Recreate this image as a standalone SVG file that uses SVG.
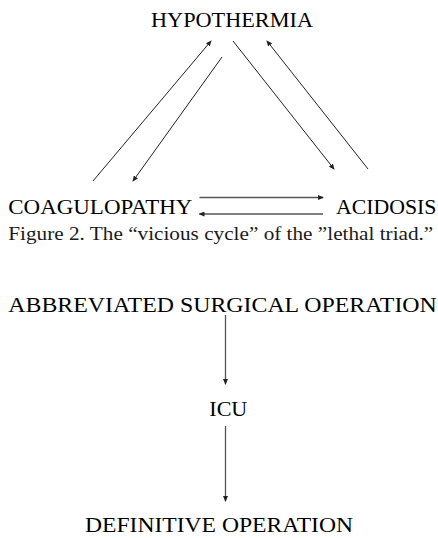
<svg xmlns="http://www.w3.org/2000/svg" width="438" height="538" viewBox="0 0 438 538">
<style>
text{font-family:'Liberation Serif','Times New Roman',serif;}
.lbl{font-size:22px;fill:#000;}
.cap{font-size:18px;fill:#1a1a1a;}
.c{stroke:#222;stroke-width:1;fill:none;marker-end:url(#ah);}
.g{stroke:#555;stroke-width:1.3;fill:none;marker-end:url(#ah);}
</style>
<defs>
<marker id="ah" markerUnits="userSpaceOnUse" markerWidth="6" markerHeight="5" refX="5" refY="2.5" orient="auto">
<path d="M0,0 L6,2.5 L0,5 z" fill="#222"/>
</marker>
</defs>
<rect width="438" height="538" fill="#fff"/>
<g id="hypothermia"><text class="lbl" x="151" y="26.7" textLength="162" lengthAdjust="spacingAndGlyphs">HYPOTHERMIA</text></g>
<g id="coagulopathy"><text class="lbl" x="8.3" y="214.3" textLength="184" lengthAdjust="spacingAndGlyphs">COAGULOPATHY</text></g>
<g id="acidosis"><text class="lbl" x="336" y="214.3" textLength="100.5" lengthAdjust="spacingAndGlyphs">ACIDOSIS</text></g>
<g id="caption"><text class="cap" x="8.3" y="240" textLength="425" lengthAdjust="spacingAndGlyphs">Figure 2. The “vicious cycle” of the ”lethal triad.”</text></g>
<g id="aso"><text class="lbl" x="8.3" y="311.7" textLength="428.5" lengthAdjust="spacingAndGlyphs">ABBREVIATED SURGICAL OPERATION</text></g>
<g id="icu"><text class="lbl" x="209.3" y="416" textLength="38" lengthAdjust="spacingAndGlyphs">ICU</text></g>
<g id="definitive"><text class="lbl" x="85" y="532" textLength="268" lengthAdjust="spacingAndGlyphs">DEFINITIVE OPERATION</text></g>
<g id="connectors">
<line class="c" x1="93" y1="181" x2="211" y2="41"/>
<line class="c" x1="222" y1="57" x2="133" y2="181"/>
<line class="c" x1="233" y1="41" x2="334" y2="169"/>
<line class="c" x1="368" y1="169" x2="267" y2="41"/>
<line class="g" x1="199.5" y1="197.5" x2="323" y2="197.5"/>
<line class="g" x1="323" y1="214" x2="199.5" y2="214"/>
<line class="g" x1="225.5" y1="315" x2="225.5" y2="384"/>
<line class="g" x1="225.5" y1="426" x2="225.5" y2="501"/>
</g>
</svg>
